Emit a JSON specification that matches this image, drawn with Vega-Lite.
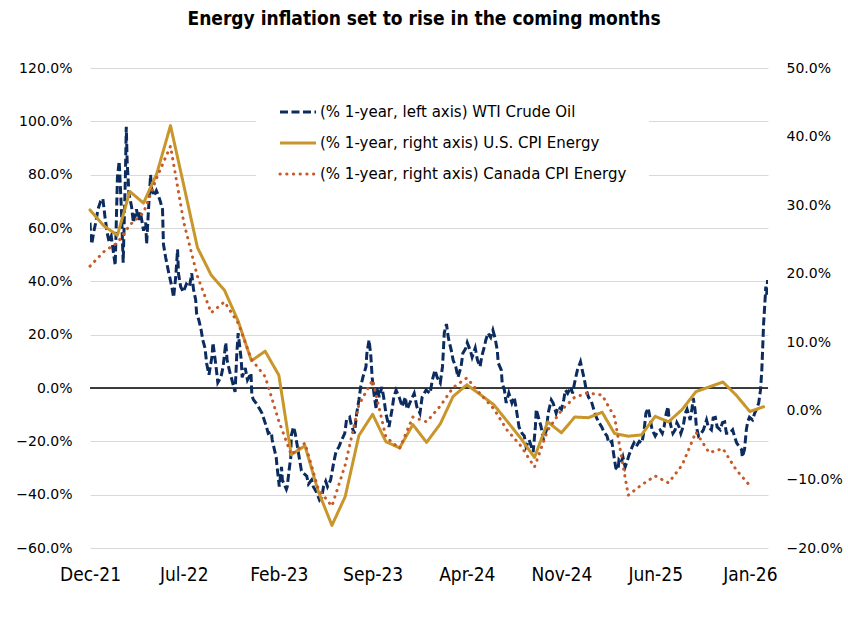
{
  "$schema": "https://vega.github.io/schema/vega-lite/v6.json",
  "width": 678,
  "height": 480,
  "autosize": {"type": "none"},
  "padding": {"left": 90, "top": 68, "right": 80, "bottom": 74},
  "background": "white",
  "title": {
    "text": "Energy inflation set to rise in the coming months",
    "font": "Liberation Sans Narrow, DejaVu Sans Condensed, sans-serif",
    "fontSize": 19,
    "fontWeight": "bold",
    "color": "#000000",
    "anchor": "middle",
    "offset": 32,
    "dx": -5
  },
  "config": {
    "view": {"stroke": null},
    "axisX": {
      "domain": false,
      "ticks": false,
      "grid": false,
      "labelPadding": 17,
      "labelFont": "Liberation Sans Narrow, DejaVu Sans Condensed, sans-serif",
      "labelFontSize": 19,
      "labelColor": "#000000",
      "labelFlush": false,
      "labelOverlap": false
    },
    "legend": {
      "orient": "none",
      "legendX": 166,
      "legendY": 2,
      "fillColor": "white",
      "padding": 22,
      "labelFont": "DejaVu Sans",
      "labelFontSize": 15,
      "labelColor": "#000000",
      "rowPadding": 3,
      "labelOffset": 2,
      "labelLimit": 500,
      "symbolType": "stroke",
      "symbolSize": 1300,
      "symbolStrokeWidth": 3
    }
  },
  "datasets": {
    "wti": [
      {"date":"2021-12-01","value":62},{"date":"2021-12-03","value":56},{"date":"2021-12-05","value":54},{"date":"2021-12-10","value":59},{"date":"2021-12-14","value":62},{"date":"2021-12-19","value":67},{"date":"2021-12-25","value":70},{"date":"2021-12-30","value":71},
      {"date":"2022-01-04","value":64},{"date":"2022-01-09","value":58},{"date":"2022-01-13","value":55},{"date":"2022-01-18","value":57},{"date":"2022-01-22","value":52},{"date":"2022-01-27","value":46},
      {"date":"2022-02-01","value":79},{"date":"2022-02-05","value":85},{"date":"2022-02-10","value":67},{"date":"2022-02-14","value":47},{"date":"2022-02-19","value":79},{"date":"2022-02-21","value":98},{"date":"2022-02-23","value":85},{"date":"2022-02-27","value":73},
      {"date":"2022-03-05","value":68},{"date":"2022-03-09","value":62},{"date":"2022-03-16","value":67},{"date":"2022-03-21","value":63},{"date":"2022-03-25","value":66},
      {"date":"2022-04-01","value":59},{"date":"2022-04-06","value":62},{"date":"2022-04-08","value":54},{"date":"2022-04-13","value":69},{"date":"2022-04-17","value":80},{"date":"2022-04-19","value":75},{"date":"2022-04-24","value":72},{"date":"2022-04-30","value":74},
      {"date":"2022-05-05","value":72},{"date":"2022-05-09","value":70},{"date":"2022-05-14","value":67},{"date":"2022-05-16","value":54},{"date":"2022-05-21","value":49},{"date":"2022-05-27","value":44},
      {"date":"2022-06-04","value":38},{"date":"2022-06-08","value":34},{"date":"2022-06-13","value":42},{"date":"2022-06-17","value":52},{"date":"2022-06-19","value":43},{"date":"2022-06-24","value":38},{"date":"2022-06-30","value":36},
      {"date":"2022-07-07","value":39},{"date":"2022-07-14","value":38},{"date":"2022-07-19","value":43},{"date":"2022-07-23","value":37},{"date":"2022-07-28","value":33},{"date":"2022-07-30","value":28},
      {"date":"2022-08-04","value":25.5},{"date":"2022-08-09","value":22},{"date":"2022-08-13","value":18},{"date":"2022-08-18","value":15},{"date":"2022-08-22","value":9},{"date":"2022-08-27","value":5},
      {"date":"2022-09-03","value":12},{"date":"2022-09-05","value":17},{"date":"2022-09-12","value":8},{"date":"2022-09-16","value":2},{"date":"2022-09-23","value":4},{"date":"2022-09-28","value":8},
      {"date":"2022-10-04","value":17},{"date":"2022-10-07","value":10.5},{"date":"2022-10-13","value":6},{"date":"2022-10-18","value":3},{"date":"2022-10-25","value":-1.5},{"date":"2022-10-29","value":13},
      {"date":"2022-11-01","value":20.6},{"date":"2022-11-08","value":10.5},{"date":"2022-11-10","value":4},{"date":"2022-11-17","value":7.5},{"date":"2022-11-22","value":3},{"date":"2022-11-30","value":5.6},
      {"date":"2022-12-02","value":-3},{"date":"2022-12-06","value":-4.5},{"date":"2022-12-13","value":-6},{"date":"2022-12-20","value":-8},{"date":"2022-12-25","value":-9.5},
      {"date":"2023-01-04","value":-14.6},{"date":"2023-01-08","value":-17},{"date":"2023-01-15","value":-16.5},{"date":"2023-01-17","value":-19.5},{"date":"2023-01-26","value":-26},{"date":"2023-01-28","value":-29.6},
      {"date":"2023-02-02","value":-37},{"date":"2023-02-07","value":-29.6},{"date":"2023-02-09","value":-34.5},{"date":"2023-02-18","value":-38},{"date":"2023-02-20","value":-37},{"date":"2023-02-24","value":-31},{"date":"2023-02-28","value":-26},
      {"date":"2023-03-01","value":-18},{"date":"2023-03-06","value":-14.6},{"date":"2023-03-10","value":-17},{"date":"2023-03-17","value":-24},{"date":"2023-03-24","value":-31},{"date":"2023-03-29","value":-32},
      {"date":"2023-04-05","value":-33},{"date":"2023-04-09","value":-36},{"date":"2023-04-16","value":-34.5},{"date":"2023-04-20","value":-37},{"date":"2023-04-27","value":-39},
      {"date":"2023-05-04","value":-42},{"date":"2023-05-09","value":-41},{"date":"2023-05-13","value":-37},{"date":"2023-05-18","value":-35},{"date":"2023-05-22","value":-37},{"date":"2023-05-29","value":-34.5},
      {"date":"2023-06-05","value":-28},{"date":"2023-06-10","value":-24},{"date":"2023-06-17","value":-22},{"date":"2023-06-23","value":-19.5},{"date":"2023-06-30","value":-17},
      {"date":"2023-07-04","value":-12},{"date":"2023-07-11","value":-11},{"date":"2023-07-16","value":-14.6},{"date":"2023-07-22","value":-17},{"date":"2023-07-27","value":-9.5},
      {"date":"2023-08-01","value":-4.5},{"date":"2023-08-05","value":0.4},{"date":"2023-08-10","value":4},{"date":"2023-08-17","value":8},{"date":"2023-08-19","value":13},{"date":"2023-08-24","value":18},{"date":"2023-08-28","value":12},{"date":"2023-08-31","value":4},
      {"date":"2023-09-04","value":-2},{"date":"2023-09-09","value":-8},{"date":"2023-09-11","value":0.4},{"date":"2023-09-16","value":-3.4},{"date":"2023-09-22","value":0.4},{"date":"2023-09-27","value":-4.5},
      {"date":"2023-10-01","value":-9.5},{"date":"2023-10-08","value":-14.6},{"date":"2023-10-15","value":-8},{"date":"2023-10-19","value":-3.4},{"date":"2023-10-24","value":-0.8},{"date":"2023-10-31","value":-3.4},
      {"date":"2023-11-07","value":-7},{"date":"2023-11-14","value":-3.4},{"date":"2023-11-18","value":-8},{"date":"2023-11-27","value":-4.5},
      {"date":"2023-12-04","value":-2},{"date":"2023-12-10","value":-7},{"date":"2023-12-17","value":-9.5},{"date":"2023-12-22","value":-3.4},{"date":"2023-12-31","value":-0.8},
      {"date":"2024-01-09","value":-2},{"date":"2024-01-14","value":3},{"date":"2024-01-20","value":6.7},{"date":"2024-01-25","value":4},
      {"date":"2024-02-01","value":1.9},{"date":"2024-02-06","value":8},{"date":"2024-02-08","value":14},{"date":"2024-02-10","value":20.6},{"date":"2024-02-15","value":24},{"date":"2024-02-19","value":19},{"date":"2024-02-26","value":14},
      {"date":"2024-03-01","value":10.5},{"date":"2024-03-07","value":8},{"date":"2024-03-12","value":4},{"date":"2024-03-19","value":8},{"date":"2024-03-23","value":13},{"date":"2024-03-30","value":15},
      {"date":"2024-04-02","value":17},{"date":"2024-04-09","value":14},{"date":"2024-04-13","value":11.6},{"date":"2024-04-20","value":15},{"date":"2024-04-25","value":10.5},
      {"date":"2024-05-01","value":8},{"date":"2024-05-05","value":12},{"date":"2024-05-10","value":15},{"date":"2024-05-14","value":18},{"date":"2024-05-19","value":20.6},{"date":"2024-05-25","value":19},{"date":"2024-05-30","value":21.7},
      {"date":"2024-06-04","value":18.7},{"date":"2024-06-09","value":14},{"date":"2024-06-11","value":9.4},{"date":"2024-06-18","value":6.7},{"date":"2024-06-20","value":1.9},{"date":"2024-06-25","value":-0.8},{"date":"2024-06-29","value":-5.6},
      {"date":"2024-07-05","value":-1.9},{"date":"2024-07-12","value":-5.6},{"date":"2024-07-17","value":-3.4},{"date":"2024-07-21","value":-7},{"date":"2024-07-28","value":-14.6},
      {"date":"2024-08-04","value":-17},{"date":"2024-08-09","value":-18},{"date":"2024-08-13","value":-22},{"date":"2024-08-20","value":-19.5},{"date":"2024-08-25","value":-22},{"date":"2024-08-29","value":-24},
      {"date":"2024-09-03","value":-14.6},{"date":"2024-09-05","value":-8},{"date":"2024-09-10","value":-11},{"date":"2024-09-16","value":-14.6},{"date":"2024-09-21","value":-19.5},{"date":"2024-09-28","value":-15.7},
      {"date":"2024-10-02","value":-9.4},{"date":"2024-10-09","value":-4.5},{"date":"2024-10-13","value":-5.6},{"date":"2024-10-20","value":-9.4},{"date":"2024-10-24","value":-7},
      {"date":"2024-11-01","value":-8},{"date":"2024-11-06","value":-4.5},{"date":"2024-11-10","value":-0.8},{"date":"2024-11-15","value":-2},{"date":"2024-11-22","value":0.4},{"date":"2024-11-26","value":-2},
      {"date":"2024-12-02","value":3},{"date":"2024-12-07","value":6.7},{"date":"2024-12-14","value":9.8},{"date":"2024-12-18","value":6.7},{"date":"2024-12-23","value":3},{"date":"2024-12-27","value":-0.8},
      {"date":"2025-01-01","value":-3.4},{"date":"2025-01-08","value":-5.2},{"date":"2025-01-13","value":-8},{"date":"2025-01-19","value":-11},{"date":"2025-01-24","value":-12.7},{"date":"2025-01-31","value":-14.6},
      {"date":"2025-02-05","value":-16.5},{"date":"2025-02-12","value":-18},{"date":"2025-02-16","value":-20.6},{"date":"2025-02-23","value":-20},{"date":"2025-02-25","value":-22.5},
      {"date":"2025-03-01","value":-27},{"date":"2025-03-04","value":-30},{"date":"2025-03-09","value":-30.7},{"date":"2025-03-11","value":-27},{"date":"2025-03-16","value":-28},{"date":"2025-03-20","value":-25.9},{"date":"2025-03-25","value":-29.6},{"date":"2025-03-29","value":-27.7},
      {"date":"2025-04-03","value":-25},{"date":"2025-04-10","value":-22},{"date":"2025-04-14","value":-20.6},{"date":"2025-04-19","value":-22},{"date":"2025-04-26","value":-20},
      {"date":"2025-05-02","value":-20.6},{"date":"2025-05-07","value":-15.7},{"date":"2025-05-11","value":-9.4},{"date":"2025-05-16","value":-7.5},{"date":"2025-05-20","value":-11},{"date":"2025-05-25","value":-15.7},
      {"date":"2025-06-01","value":-18},{"date":"2025-06-06","value":-16.5},{"date":"2025-06-12","value":-15.7},{"date":"2025-06-17","value":-17},{"date":"2025-06-21","value":-14.6},{"date":"2025-06-26","value":-9.4},{"date":"2025-06-30","value":-7},
      {"date":"2025-07-02","value":-11},{"date":"2025-07-07","value":-14.6},{"date":"2025-07-11","value":-17},{"date":"2025-07-16","value":-15.7},{"date":"2025-07-20","value":-13},{"date":"2025-07-25","value":-14.6},{"date":"2025-07-29","value":-17},
      {"date":"2025-08-03","value":-14.6},{"date":"2025-08-08","value":-9.4},{"date":"2025-08-12","value":-8},{"date":"2025-08-19","value":-12},{"date":"2025-08-23","value":-8},{"date":"2025-08-26","value":-3.7},{"date":"2025-08-30","value":-8},
      {"date":"2025-09-02","value":-14.6},{"date":"2025-09-07","value":-18},{"date":"2025-09-13","value":-17},{"date":"2025-09-18","value":-15.7},{"date":"2025-09-25","value":-12},{"date":"2025-09-29","value":-14.6},
      {"date":"2025-10-06","value":-15.7},{"date":"2025-10-10","value":-11.2},{"date":"2025-10-15","value":-11},{"date":"2025-10-19","value":-14.6},{"date":"2025-10-26","value":-15.7},{"date":"2025-10-31","value":-13},
      {"date":"2025-11-05","value":-12.7},{"date":"2025-11-09","value":-17},{"date":"2025-11-16","value":-17},{"date":"2025-11-23","value":-15.7},{"date":"2025-11-27","value":-18},
      {"date":"2025-12-02","value":-20.6},{"date":"2025-12-08","value":-22},{"date":"2025-12-13","value":-23},{"date":"2025-12-15","value":-25.9},{"date":"2025-12-20","value":-23},{"date":"2025-12-24","value":-15.7},{"date":"2025-12-27","value":-12.7},{"date":"2025-12-31","value":-11},
      {"date":"2026-01-07","value":-12},{"date":"2026-01-12","value":-9.4},{"date":"2026-01-16","value":-8},{"date":"2026-01-21","value":-5.6},{"date":"2026-01-25","value":-0.8},{"date":"2026-01-28","value":6.7},{"date":"2026-01-30","value":15},
      {"date":"2026-02-01","value":24},{"date":"2026-02-04","value":32},{"date":"2026-02-06","value":38},{"date":"2026-02-08","value":35},{"date":"2026-02-10","value":40.5}
    ],
    "cpi": [
      {"date":"2021-12-01","series":"US","value":29.3},{"date":"2022-01-01","series":"US","value":27.0},{"date":"2022-02-01","series":"US","value":25.6},{"date":"2022-03-01","series":"US","value":32.0},{"date":"2022-04-01","series":"US","value":30.3},{"date":"2022-05-01","series":"US","value":34.6},{"date":"2022-06-01","series":"US","value":41.6},{"date":"2022-07-01","series":"US","value":32.9},{"date":"2022-08-01","series":"US","value":23.8},{"date":"2022-09-01","series":"US","value":19.8},{"date":"2022-10-01","series":"US","value":17.6},{"date":"2022-11-01","series":"US","value":13.1},{"date":"2022-12-01","series":"US","value":7.3},
      {"date":"2023-01-01","series":"US","value":8.7},{"date":"2023-02-01","series":"US","value":5.2},{"date":"2023-03-01","series":"US","value":-6.4},{"date":"2023-04-01","series":"US","value":-5.1},{"date":"2023-05-01","series":"US","value":-11.7},{"date":"2023-06-01","series":"US","value":-16.7},{"date":"2023-07-01","series":"US","value":-12.5},{"date":"2023-08-01","series":"US","value":-3.6},{"date":"2023-09-01","series":"US","value":-0.5},{"date":"2023-10-01","series":"US","value":-4.5},{"date":"2023-11-01","series":"US","value":-5.4},{"date":"2023-12-01","series":"US","value":-2.0},
      {"date":"2024-01-01","series":"US","value":-4.6},{"date":"2024-02-01","series":"US","value":-1.9},{"date":"2024-03-01","series":"US","value":2.1},{"date":"2024-04-01","series":"US","value":3.8},{"date":"2024-05-01","series":"US","value":2.4},{"date":"2024-06-01","series":"US","value":0.9},{"date":"2024-07-01","series":"US","value":-1.5},{"date":"2024-08-01","series":"US","value":-4.0},{"date":"2024-09-01","series":"US","value":-6.8},{"date":"2024-10-01","series":"US","value":-1.6},{"date":"2024-11-01","series":"US","value":-3.2},{"date":"2024-12-01","series":"US","value":-0.9},
      {"date":"2025-01-01","series":"US","value":-1.0},{"date":"2025-02-01","series":"US","value":-0.2},{"date":"2025-03-01","series":"US","value":-3.3},{"date":"2025-04-01","series":"US","value":-3.7},{"date":"2025-05-01","series":"US","value":-3.5},{"date":"2025-06-01","series":"US","value":-0.8},{"date":"2025-07-01","series":"US","value":-1.6},{"date":"2025-08-01","series":"US","value":0.2},{"date":"2025-09-01","series":"US","value":2.8},{"date":"2025-11-01","series":"US","value":4.2},{"date":"2025-12-01","series":"US","value":2.3},{"date":"2026-01-01","series":"US","value":-0.1},{"date":"2026-02-01","series":"US","value":0.6},
      {"date":"2021-12-01","series":"CA","value":21.1},{"date":"2022-01-01","series":"CA","value":23.2},{"date":"2022-02-01","series":"CA","value":24.5},{"date":"2022-03-01","series":"CA","value":27.1},{"date":"2022-04-01","series":"CA","value":28.9},{"date":"2022-05-01","series":"CA","value":34.0},{"date":"2022-06-01","series":"CA","value":38.6},{"date":"2022-07-01","series":"CA","value":27.5},{"date":"2022-08-01","series":"CA","value":19.6},{"date":"2022-09-01","series":"CA","value":14.3},{"date":"2022-10-01","series":"CA","value":15.9},{"date":"2022-11-01","series":"CA","value":12.8},{"date":"2022-12-01","series":"CA","value":7.5},
      {"date":"2023-01-01","series":"CA","value":5.0},{"date":"2023-02-01","series":"CA","value":-1.5},{"date":"2023-03-01","series":"CA","value":-6.4},{"date":"2023-04-01","series":"CA","value":-4.7},{"date":"2023-05-01","series":"CA","value":-11.4},{"date":"2023-06-01","series":"CA","value":-13.9},{"date":"2023-07-01","series":"CA","value":-7.9},{"date":"2023-08-01","series":"CA","value":0.9},{"date":"2023-09-01","series":"CA","value":4.5},{"date":"2023-10-01","series":"CA","value":-3.8},{"date":"2023-11-01","series":"CA","value":-5.5},{"date":"2023-12-01","series":"CA","value":-0.9},
      {"date":"2024-01-01","series":"CA","value":-1.6},{"date":"2024-02-01","series":"CA","value":0.7},{"date":"2024-03-01","series":"CA","value":3.4},{"date":"2024-04-01","series":"CA","value":4.8},{"date":"2024-05-01","series":"CA","value":2.5},{"date":"2024-06-01","series":"CA","value":0.3},{"date":"2024-07-01","series":"CA","value":-2.8},{"date":"2024-08-01","series":"CA","value":-5.1},{"date":"2024-09-01","series":"CA","value":-8.2},{"date":"2024-10-01","series":"CA","value":-2.8},{"date":"2024-11-01","series":"CA","value":0.1},{"date":"2024-12-01","series":"CA","value":2.0},
      {"date":"2025-01-01","series":"CA","value":2.6},{"date":"2025-02-01","series":"CA","value":2.3},{"date":"2025-03-01","series":"CA","value":-0.9},{"date":"2025-04-01","series":"CA","value":-12.3},{"date":"2025-05-01","series":"CA","value":-10.8},{"date":"2025-06-01","series":"CA","value":-9.5},{"date":"2025-07-01","series":"CA","value":-10.5},{"date":"2025-08-01","series":"CA","value":-7.9},{"date":"2025-09-01","series":"CA","value":-3.1},{"date":"2025-10-01","series":"CA","value":-6.1},{"date":"2025-11-01","series":"CA","value":-5.5},{"date":"2025-12-01","series":"CA","value":-8.6},{"date":"2026-01-01","series":"CA","value":-10.9}
    ],
    "zero": [{"level": 0}]
  },
  "layer": [
    {
      "layer": [
        {
          "data": {"name": "zero"},
          "mark": {"type": "rule", "color": "#000000", "strokeWidth": 1.5},
          "encoding": {
            "y": {"field": "level", "type": "quantitative", "scale": {"domain": [-60, 120], "nice": false, "zero": false}}
          }
        },
        {
          "data": {"name": "wti"},
          "mark": {"type": "line", "color": "#0c2c5f", "strokeWidth": 3, "strokeDash": [8, 3.5], "strokeCap": "butt", "clip": true},
          "encoding": {
            "x": {
              "field": "date", "type": "temporal",
              "scale": {"type": "utc", "domain": [{"year": 2021, "month": 12, "date": 1, "utc": true}, {"year": 2026, "month": 2, "date": 11, "utc": true}]},
              "axis": {
                "title": null,
                "values": [
                  {"year": 2021, "month": 12, "date": 1, "utc": true},
                  {"year": 2022, "month": 7, "date": 1, "utc": true},
                  {"year": 2023, "month": 2, "date": 1, "utc": true},
                  {"year": 2023, "month": 9, "date": 1, "utc": true},
                  {"year": 2024, "month": 4, "date": 1, "utc": true},
                  {"year": 2024, "month": 11, "date": 1, "utc": true},
                  {"year": 2025, "month": 6, "date": 1, "utc": true},
                  {"year": 2026, "month": 1, "date": 1, "utc": true}
                ],
                "labelExpr": "utcFormat(datum.value, '%b-%y')"
              }
            },
            "y": {
              "field": "value", "type": "quantitative",
              "scale": {"domain": [-60, 120], "nice": false, "zero": false},
              "axis": {
                "orient": "left",
                "title": null,
                "values": [-60, -40, -20, 0, 20, 40, 60, 80, 100, 120],
                "labelExpr": "format(datum.value, '.1f') + '%'",
                "grid": true,
                "gridColor": "#d9d9d9",
                "gridWidth": 1,
                "domain": false,
                "ticks": false,
                "labelPadding": 18,
                "labelFont": "DejaVu Sans",
                "labelFontSize": 14,
                "labelColor": "#000000"
              }
            }
          }
        }
      ]
    },
    {
      "data": {"name": "cpi"},
      "mark": {"type": "line", "strokeWidth": 3, "strokeCap": "round", "strokeJoin": "round"},
      "encoding": {
        "x": {
          "field": "date", "type": "temporal",
          "scale": {"type": "utc", "domain": [{"year": 2021, "month": 12, "date": 1, "utc": true}, {"year": 2026, "month": 2, "date": 11, "utc": true}]},
          "axis": {
            "title": null,
            "values": [
              {"year": 2021, "month": 12, "date": 1, "utc": true},
              {"year": 2022, "month": 7, "date": 1, "utc": true},
              {"year": 2023, "month": 2, "date": 1, "utc": true},
              {"year": 2023, "month": 9, "date": 1, "utc": true},
              {"year": 2024, "month": 4, "date": 1, "utc": true},
              {"year": 2024, "month": 11, "date": 1, "utc": true},
              {"year": 2025, "month": 6, "date": 1, "utc": true},
              {"year": 2026, "month": 1, "date": 1, "utc": true}
            ],
            "labelExpr": "utcFormat(datum.value, '%b-%y')"
          }
        },
        "y": {
          "field": "value", "type": "quantitative",
          "scale": {"domain": [-20, 50], "nice": false, "zero": false},
          "axis": {
            "orient": "right",
            "title": null,
            "values": [-20, -10, 0, 10, 20, 30, 40, 50],
            "labelExpr": "format(datum.value, '.1f') + '%'",
            "grid": false,
            "domain": false,
            "ticks": false,
            "labelPadding": 18,
            "labelFont": "DejaVu Sans",
            "labelFontSize": 14,
            "labelColor": "#000000"
          }
        },
        "color": {
          "field": "series", "type": "nominal",
          "scale": {"domain": ["WTI", "US", "CA"], "range": ["#0c2c5f", "#c8962a", "#c65a28"]},
          "legend": {
            "title": null,
            "labelExpr": "datum.value == 'WTI' ? '(% 1-year, left axis) WTI Crude Oil' : datum.value == 'US' ? '(% 1-year, right axis) U.S. CPI Energy' : '(% 1-year, right axis) Canada CPI Energy'",
            "encode": {"symbols": {"update": {"strokeCap": {"signal": "datum.value == 'CA' ? 'round' : 'butt'"}}}}
          }
        },
        "strokeDash": {
          "field": "series", "type": "nominal",
          "scale": {"domain": ["WTI", "US", "CA"], "range": [[8, 3.5], [1, 0], [0.3, 6.4]]},
          "legend": {
            "title": null,
            "labelExpr": "datum.value == 'WTI' ? '(% 1-year, left axis) WTI Crude Oil' : datum.value == 'US' ? '(% 1-year, right axis) U.S. CPI Energy' : '(% 1-year, right axis) Canada CPI Energy'",
            "encode": {"symbols": {"update": {"strokeCap": {"signal": "datum.value == 'CA' ? 'round' : 'butt'"}}}}
          }
        }
      }
    }
  ],
  "resolve": {"scale": {"y": "independent"}}
}
